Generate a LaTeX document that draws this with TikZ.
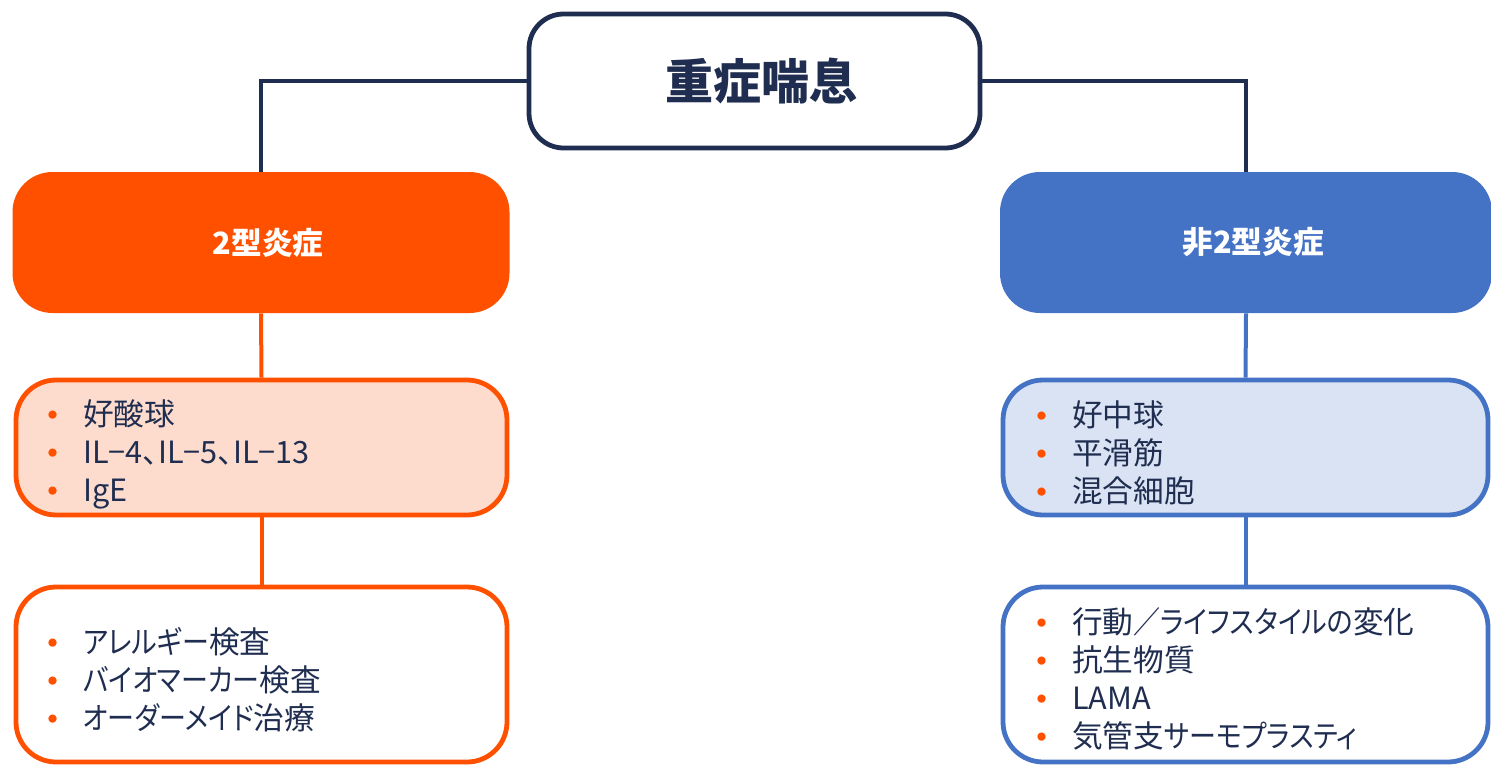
\documentclass[tikz,border=0pt]{standalone}
\usepackage{fontspec}
\setmainfont{Noto Sans CJK JP}
\newfontfamily\listfont{Noto Sans CJK JP}[RawFeature=+palt]
\newfontfamily\kanafont{Noto Sans CJK JP}[RawFeature=+palt,FakeStretch=0.88]
\newfontfamily\bulfont{DejaVu Sans}
\definecolor{navy}{HTML}{1F2D50}
\definecolor{orng}{HTML}{FF5000}
\definecolor{blu}{HTML}{4472C4}
\definecolor{peach}{HTML}{FDDCCD}
\definecolor{lblu}{HTML}{DAE3F3}
\definecolor{txt}{HTML}{1F2D50}
\newcommand\bul{\makebox[29.25pt][l]{\textcolor{orng}{\bulfont\fontsize{21pt}{21pt}\selectfont •}}}
\newcommand\kn[1]{{\kanafont\fontsize{23pt}{28.5pt}\selectfont #1}}
\newcommand\shiftr{\hspace*{10.5pt}}
\begin{document}
\begin{tikzpicture}[x=0.75pt,y=-0.75pt,
  topbox/.style={draw=navy,line width=3.6pt,fill=white,rounded corners=26pt,minimum width=451*0.75pt,minimum height=134*0.75pt,text=navy,font=\bfseries\fontsize{36pt}{40pt}\selectfont,inner sep=0pt},
  catbox/.style={rounded corners=30pt,minimum height=141*0.75pt,text=white,font=\bfseries\fontsize{23pt}{26pt}\selectfont,inner sep=0pt},
  listbox/.style={line width=3.6pt,rounded corners=30pt,minimum width=491*0.75pt,inner sep=0pt},
  listtext/.style={anchor=west,align=left,inner sep=0pt,text=txt,font=\listfont\fontsize{23pt}{28.5pt}\selectfont},
  conn/.style={line width=3pt}]
\useasboundingbox (0,0) rectangle (1491,767);
% boxes
\node[topbox] (top) at (754.5,81) {\shiftr 重症喘息};
\node[catbox,fill=orng,minimum width=497*0.75pt] (t2) at (261,242.5) {\shiftr 2型炎症};
\node[catbox,fill=blu,minimum width=492*0.75pt] (nt2) at (1246,242.5) {\shiftr 非2型炎症};
\node[listbox,draw=orng,fill=peach,minimum height=135*0.75pt] (l1) at (261.5,447.5) {};
\node[listbox,draw=orng,fill=white,minimum height=175*0.75pt] (l2) at (261.5,674.5) {};
\node[listbox,draw=blu,fill=lblu,minimum width=485*0.75pt,minimum height=135*0.75pt] (r1) at (1245.5,447.5) {};
\node[listbox,draw=blu,fill=white,minimum width=485*0.75pt,minimum height=175*0.75pt] (r2) at (1245.5,674.5) {};
% texts
\node[listtext] (l1t) at (44,454) {\bul 好酸球\\\bul IL−4、IL−5、IL−13\\\bul IgE};
\node[listtext] (l2t) at (44,680) {\bul \kn{アレルギー}検査\\\bul \kn{バイオマーカー}検査\\\bul \kn{オーダーメイド}治療};
\node[listtext] (r1t) at (1033,453) {\bul 好中球\\\bul 平滑筋\\\bul 混合細胞};
\node[listtext] (r2t) at (1033,679) {\bul 行動\kn{／ライフスタイルの}変化\\\bul 抗生物質\\\bul LAMA\\\bul 気管支\kn{サーモプラスティ}};
% connectors
\draw[conn,draw=navy] (top.west) -| (t2.north);
\draw[conn,draw=navy] (top.east) -| (nt2.north);
\draw[conn,draw=orng] (t2.south) -- (l1.north);
\draw[conn,draw=orng] (l1.south) -- (l2.north);
\draw[conn,draw=blu] (nt2.south) -- (r1.north);
\draw[conn,draw=blu] (r1.south) -- (r2.north);
\end{tikzpicture}
\end{document}
